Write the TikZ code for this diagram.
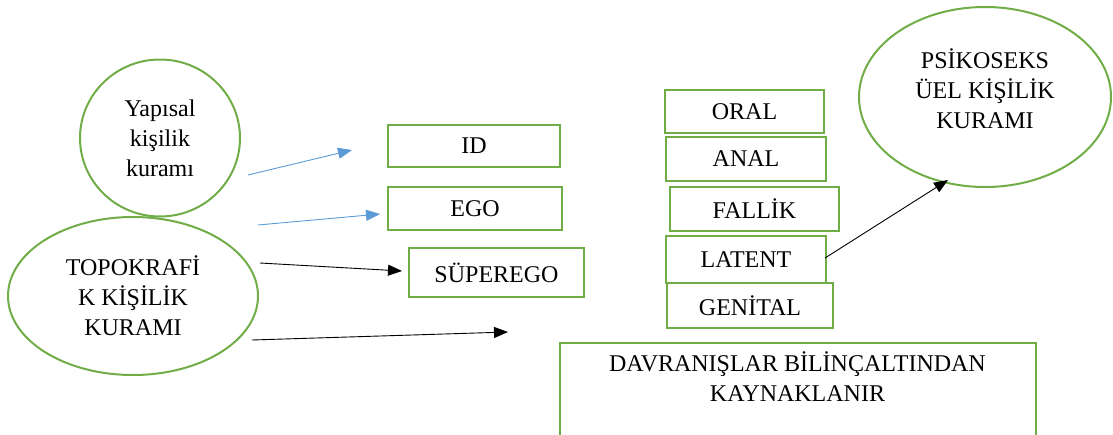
\documentclass[tikz,border=0pt]{standalone}
\usepackage{fontspec}
\setmainfont{Liberation Serif}
\usetikzlibrary{arrows.meta,shapes.geometric,positioning}
\definecolor{kgreen}{RGB}{112,173,71}
\definecolor{kblue}{RGB}{91,155,213}
\tikzset{
  every node/.style={font=\fontsize{24}{30}\selectfont, align=center},
  kutu/.style={draw=kgreen, line width=2pt, rectangle, inner sep=0pt},
  oval/.style={draw=kgreen, line width=2pt, ellipse, inner sep=0pt},
  ok/.style={-{Triangle[length=14pt,width=11pt]}, line width=0.9pt},
}

\begin{document}
\begin{tikzpicture}[x=1pt,y=-1pt]
\useasboundingbox (0,0) rectangle (1113,434);
\clip (0,0) rectangle (1113,434);
% kuramlar
\node (yapisal) [oval, minimum width=160pt, minimum height=157pt] at (160,138) {Yapısal\\kişilik\\kuramı};
\node (topo) [oval, minimum width=250pt, minimum height=158pt] at (133,296) {TOPOKRAFİ\\K KİŞİLİK\\KURAMI};
\node (psiko) [oval, minimum width=252pt, minimum height=180pt] at (985,97) {};
\node (psikotext) at (985,89) {PSİKOSEKS\\ÜEL KİŞİLİK\\KURAMI};
% yapisal kutular
\node (id) [kutu, minimum width=172pt, minimum height=42pt] at (474,146) {ID};
\node (ego) [kutu, minimum width=174pt, minimum height=43pt] at (475,208.5) {EGO};
\node (super) [kutu, minimum width=175pt, minimum height=49pt] at (496.5,272.5) {SÜPEREGO};
% evreler
\node (oral) [kutu, minimum width=159pt, minimum height=43pt] at (744.5,111.5) {ORAL};
\node (anal) [kutu, minimum width=160pt, minimum height=44pt] at (746,158.5) {ANAL};
\node (fallik) [kutu, minimum width=169pt, minimum height=44pt] at (754.5,209) {FALLİK};
\node (latent) [kutu, minimum width=160pt, minimum height=47pt] at (746,259.5) {LATENT};
\node (genital) [kutu, minimum width=166pt, minimum height=45pt] at (750,305.5) {GENİTAL};
% alt kutu
\node (davr) [kutu, minimum width=476pt, minimum height=140pt, anchor=north] at (797.5,341.5) {};
\node (davrtext) [below=7pt of davr.north] {DAVRANIŞLAR BİLİNÇALTINDAN\\KAYNAKLANIR};
% ok uclari
\coordinate (a1) at (248,175);
\coordinate (b1) at (352,150);
\coordinate (a2) at (258,225);
\coordinate (b2) at (380,214);
\coordinate (a3) at (260,263);
\coordinate (b3) at (402,271);
\coordinate (a4) at (252,340);
\coordinate (b4) at (508,332);
\coordinate (a5) at (825,258);
\coordinate (b5) at (948,180);
\draw[ok, kblue] (a1) -- (b1);
\draw[ok, kblue] (a2) -- (b2);
\draw[ok] (a3) -- (b3);
\draw[ok] (a4) -- (b4);
\draw[ok] (a5) -- (b5);
\end{tikzpicture}
\end{document}
